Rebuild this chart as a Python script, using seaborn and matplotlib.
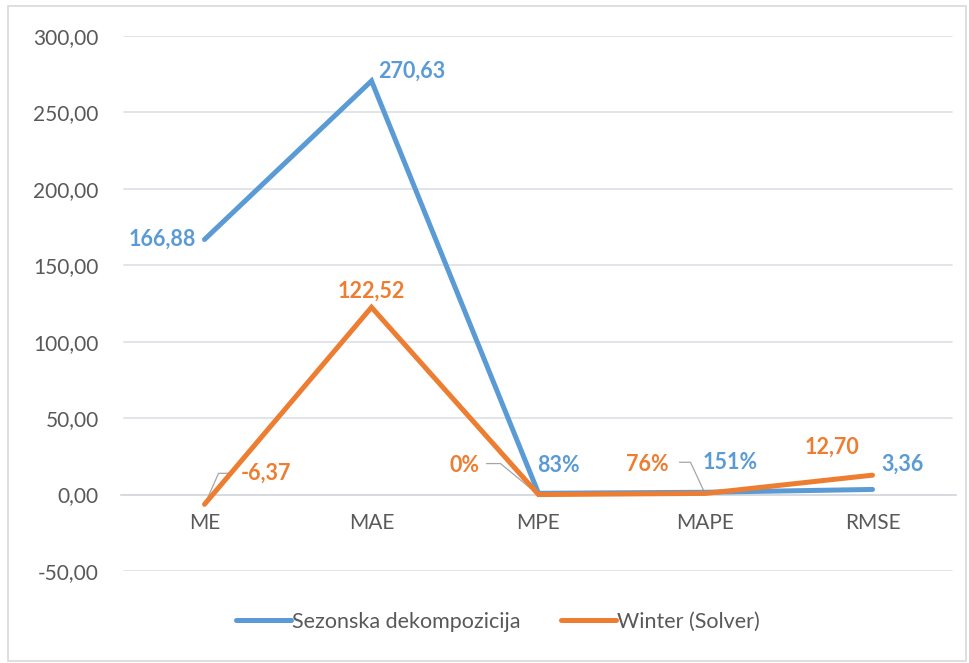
import matplotlib
matplotlib.use("Agg")
import matplotlib.pyplot as plt
from matplotlib.patches import Rectangle
from matplotlib.lines import Line2D
import seaborn as sns
import pandas as pd

categories = ["ME", "MAE", "MPE", "MAPE", "RMSE"]
sezonska = [166.88, 270.63, 0.83, 1.51, 3.36]
winter = [-6.37, 122.52, 0.004, 0.76, 12.70]
sezonska_labels = ["166,88", "270,63", "83%", "151%", "3,36"]
winter_labels = ["-6,37", "122,52", "0%", "76%", "12,70"]
series_names = ["Sezonska dekompozicija", "Winter (Solver)"]
yticks = [-50, 0, 50, 100, 150, 200, 250, 300]

BLUE = "#5B9BD5"
ORANGE = "#ED7D31"
GREY = "#595959"
GRID = "#DCDFE4"

sns.set_theme(style="white")
plt.rcParams["font.family"] = ["Lato", "DejaVu Sans"]

df = pd.DataFrame({
    "cat": categories * 2,
    "x": list(range(len(categories))) * 2,
    "value": sezonska + winter,
    "series": [series_names[0]] * 5 + [series_names[1]] * 5,
})

fig = plt.figure(figsize=(9.69, 6.63), dpi=100)
ax = fig.add_axes([121 / 969, 1 - 571 / 663, 835 / 969, 535 / 663])

sns.lineplot(data=df, x="x", y="value", hue="series", palette=[BLUE, ORANGE],
             linewidth=3.6, sort=False, ax=ax, legend=False, zorder=3)
for ln in ax.get_lines():
    ln.set_solid_capstyle("round")
    ln.set_solid_joinstyle("miter")

ax.set_xlim(-0.5, 4.5)
ax.set_ylim(-50, 300)
ax.set_yticks(yticks)
ax.set_yticklabels([f"{v:.2f}".replace(".", ",") for v in yticks], color=GREY, fontsize=15)
ax.tick_params(axis="y", length=0, pad=16)
for v in yticks:
    if v != 0:
        ax.axhline(v, color=GRID, linewidth=1.2, zorder=0, xmin=0.003, xmax=0.995)

for s in ["top", "right", "left"]:
    ax.spines[s].set_visible(False)
ax.spines["bottom"].set_position(("data", 0))
ax.spines["bottom"].set_color("#D0D4DA")
ax.spines["bottom"].set_linewidth(1.2)
ax.spines["bottom"].set_zorder(1)

ax.set_xticks([i - 0.5 for i in range(6)])
ax.set_xticklabels([])
ax.set_xticks(list(range(5)), minor=True)
ax.set_xticklabels(categories, minor=True, color=GREY, fontsize=15)
ax.tick_params(axis="x", which="major", length=7, color="#D0D4DA", width=1.2, direction="out")
ax.tick_params(axis="x", which="minor", length=0, pad=13)
ax.set_xlabel("")
ax.set_ylabel("")

# data labels: (dx px, dy px, ha)
lab_kw = dict(textcoords="offset pixels", fontsize=15.5, fontweight="bold", va="center")
blue_off = [(-9, 0, "right"), (7, 10, "left"), (-1, 28, "left"), (-3, 30, "left"), (9, 25, "left")]
orange_off = [(36, 31, "left"), (0, 16, "center"), (-59, 29, "right"), (-37, 29, "right"), (-41, 28, "center")]
for i in range(5):
    dx, dy, ha = blue_off[i]
    ax.annotate(sezonska_labels[i], (i, sezonska[i]), xytext=(dx, dy), ha=ha,
                color=BLUE, **lab_kw)
    dx, dy, ha = orange_off[i]
    ax.annotate(winter_labels[i], (i, winter[i]), xytext=(dx, dy), ha=ha,
                color=ORANGE, **lab_kw)

# leader lines (offsets in pixels from the data point)
lead = "#A6A6A6"
def leader(xi, yv, pts):
    tr = ax.transData
    px, py = tr.transform((xi, yv))
    inv = tr.inverted()
    d = [inv.transform((px + a, py + b)) for a, b in pts]
    ax.plot([q[0] for q in d], [q[1] for q in d], color=lead, linewidth=0.9, zorder=2)

fig.canvas.draw()
leader(0, winter[0], [(3, 6), (14, 31), (28, 31)])
leader(2, winter[2], [(-4, 3), (-38, 31), (-52, 31)])
leader(3, sezonska[3], [(-2, 2), (-15, 30), (-26, 30)])

handles = [Line2D([0], [0], color=BLUE, lw=3.6, solid_capstyle="round"),
           Line2D([0], [0], color=ORANGE, lw=3.6, solid_capstyle="round")]
leg = fig.legend(handles, series_names, loc="center", bbox_to_anchor=(498 / 969, 1 - 622 / 663),
                 ncol=2, frameon=False, fontsize=15.5, handlelength=2.55, handletextpad=0.08,
                 columnspacing=1.85)
for t in leg.get_texts():
    t.set_color(GREY)

fig.patches.append(Rectangle((8 / 969, 2 / 663), 958 / 969, 655 / 663, transform=fig.transFigure,
                             fill=False, edgecolor="#D9D9D9", linewidth=1.2))

fig.savefig("out.png", dpi=100)
